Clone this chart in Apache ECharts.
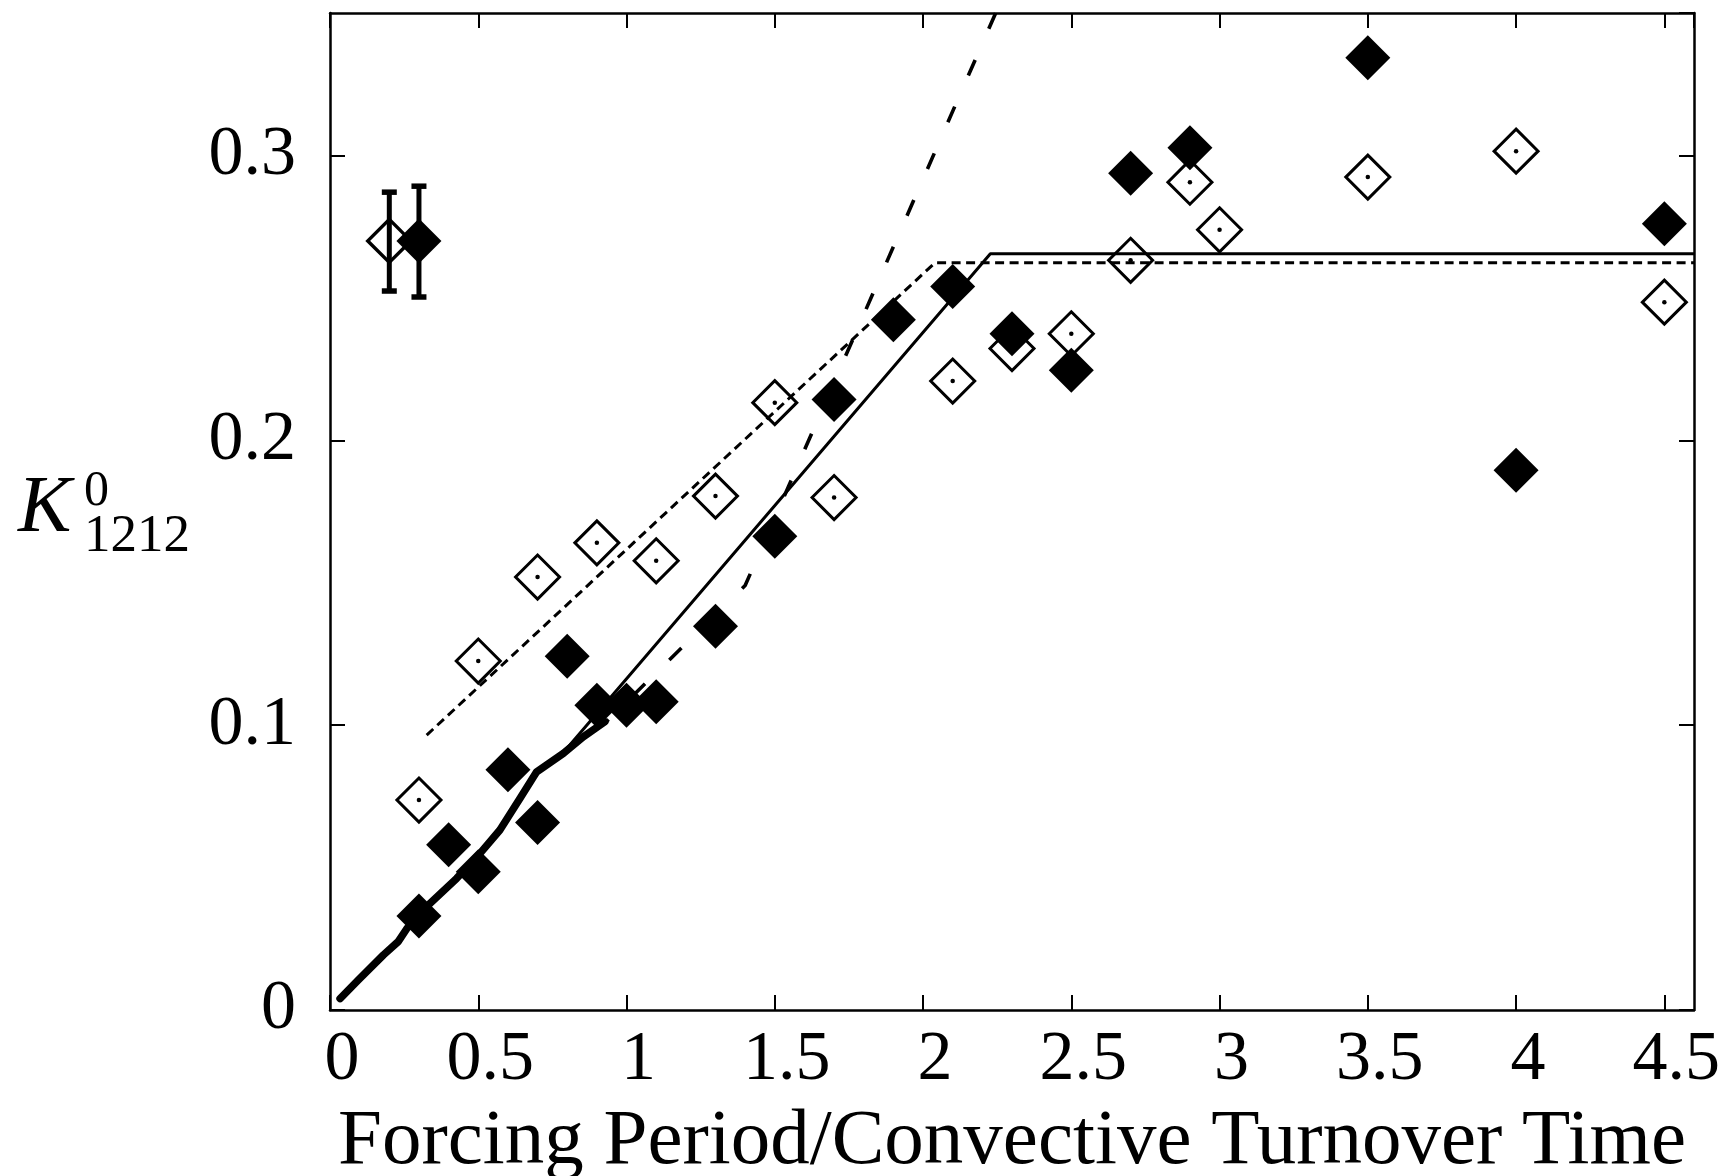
<!DOCTYPE html>
<html>
<head>
<meta charset="utf-8">
<script src="https://cdn.jsdelivr.net/npm/echarts@6.0.0/dist/echarts.min.js"></script>
<style>
  html, body { margin: 0; padding: 0; background: #fff; }
  #chart { width: 1730px; height: 1176px; }
</style>
</head>
<body>
<div id="chart"></div>
<script>
// filled diamonds
const xFilled = [0.3, 0.4, 0.5, 0.6, 0.7, 0.8, 0.9, 1.0, 1.1, 1.3, 1.5, 1.7, 1.9, 2.1, 2.3, 2.5, 2.7, 2.9, 3.5, 4.0, 4.5];
const yFilled = [0.033, 0.058, 0.0485, 0.0843, 0.0658, 0.1242, 0.107, 0.107, 0.1082, 0.1347, 0.1663, 0.2143, 0.2423, 0.254, 0.2374, 0.2246, 0.2937, 0.3027, 0.3343, 0.1895, 0.276];

// open diamonds (with centre dot)
const xOpen = [0.3, 0.5, 0.7, 0.9, 1.1, 1.3, 1.5, 1.7, 2.1, 2.3, 2.5, 2.7, 2.9, 3.0, 3.5, 4.0, 4.5];
const yOpen = [0.0737, 0.1225, 0.152, 0.164, 0.1577, 0.1804, 0.2132, 0.1799, 0.2208, 0.2322, 0.2374, 0.2632, 0.2906, 0.2739, 0.2924, 0.3015, 0.2485];

// thick curve near the origin
const xThick = [0.034, 0.095, 0.18, 0.23, 0.26, 0.337, 0.427, 0.506, 0.573, 0.641, 0.697, 0.787, 0.854, 0.927];
const yThick = [0.004, 0.0105, 0.0193, 0.024, 0.0287, 0.0374, 0.0462, 0.055, 0.0632, 0.0743, 0.0836, 0.0901, 0.0959, 0.1012];

// fit lines
const xSolidFit = [0.78, 2.227, 4.6];
const ySolidFit = [0.0895, 0.2655, 0.2655];
const xShortDash = [0.326, 2.04, 4.6];
const yShortDash = [0.0965, 0.2623, 0.2623];
const xLongDash = [0.93, 1.4, 2.245];
const yLongDash = [0.101, 0.149, 0.35];

// typical error bars (index 0: open, index 1: filled)
const xErr = [0.2, 0.3];
const yErr = [0.27, 0.27];
const errLow = [0.2524, 0.2503];
const errHigh = [0.2871, 0.2892];

const FONT = 'Liberation Serif';
const pairs = (xs, ys) => xs.map((x, i) => [x, ys[i]]);

const chart = echarts.init(document.getElementById('chart'), null, { renderer: 'canvas' });

const xLabelFmt = function (v) {
  const k = v / 0.5;
  if (Math.abs(k - Math.round(k)) > 1e-6) return '';
  return String(Math.round(k) / 2);
};
const yLabelFmt = function (v) {
  const k = v / 0.1;
  if (Math.abs(k - Math.round(k)) > 1e-6) return '';
  return String(Math.round(k) / 10);
};

const axisLine = { show: true, onZero: false, lineStyle: { color: '#000', width: 2.5 } };
const axisTick = { show: true, inside: true, length: 15, lineStyle: { color: '#000', width: 2 } };

const option = {
  animation: false,
  backgroundColor: '#fff',
  textStyle: { fontFamily: FONT, color: '#000' },
  grid: { left: 330, right: 36, top: 13, bottom: 166, containLabel: false, outerBoundsMode: 'none' },
  xAxis: [
    {
      type: 'value', min: 0, max: 4.6, interval: 0.5, position: 'bottom',
      axisLine: axisLine, axisTick: axisTick, splitLine: { show: false },
      axisLabel: {
        formatter: xLabelFmt, fontSize: 70, fontFamily: FONT, color: '#000',
        margin: 16, padding: [0, 0, 0, 24], showMaxLabel: false
      },
      name: 'Forcing Period/Convective Turnover Time',
      nameLocation: 'middle', nameGap: 93,
      nameTextStyle: { fontSize: 79, fontFamily: FONT, color: '#000' }
    },
    {
      type: 'value', min: 0, max: 4.6, interval: 0.5, position: 'top',
      axisLine: axisLine, axisTick: axisTick, splitLine: { show: false },
      axisLabel: { show: false }
    }
  ],
  yAxis: [
    {
      type: 'value', min: 0, max: 0.35, interval: 0.1, position: 'left',
      axisLine: axisLine, axisTick: axisTick, splitLine: { show: false },
      axisLabel: {
        formatter: yLabelFmt, fontSize: 70, fontFamily: FONT, color: '#000',
        margin: 34, showMaxLabel: false
      }
    },
    {
      type: 'value', min: 0, max: 0.35, interval: 0.1, position: 'right',
      axisLine: axisLine, axisTick: axisTick, splitLine: { show: false },
      axisLabel: { show: false }
    }
  ],
  graphic: [
    { type: 'text', x: 18, y: 510,
      style: { text: 'K', font: 'italic 80px "Liberation Serif"', fill: '#000', verticalAlign: 'middle', align: 'left' } },
    { type: 'text', x: 84, y: 492,
      style: { text: '0', font: '50px "Liberation Serif"', fill: '#000', verticalAlign: 'middle', align: 'left' } },
    { type: 'text', x: 84, y: 537,
      style: { text: '1212', font: '53px "Liberation Serif"', fill: '#000', verticalAlign: 'middle', align: 'left' } }
  ],
  series: [
    {
      name: 'open', type: 'scatter', symbol: 'diamond', symbolSize: 44,
      data: pairs(xOpen, yOpen),
      itemStyle: { color: 'rgba(255,255,255,0)', borderColor: '#000', borderWidth: 3, opacity: 1 }
    },
    {
      name: 'openDot', type: 'scatter', symbol: 'circle', symbolSize: 4.5,
      data: pairs(xOpen, yOpen),
      itemStyle: { color: '#000', opacity: 1 }
    },
    {
      name: 'thick', type: 'line', showSymbol: false, symbol: 'none',
      data: pairs(xThick, yThick),
      lineStyle: { color: '#000', width: 7.5, cap: 'round', join: 'round' }
    },
    {
      name: 'solidFit', type: 'line', showSymbol: false, symbol: 'none',
      data: pairs(xSolidFit, ySolidFit),
      lineStyle: { color: '#000', width: 3 }
    },
    {
      name: 'shortDash', type: 'line', showSymbol: false, symbol: 'none',
      data: pairs(xShortDash, yShortDash),
      lineStyle: { color: '#000', width: 3, type: [9, 5.5] }
    },
    {
      name: 'longDash', type: 'line', showSymbol: false, symbol: 'none',
      data: pairs(xLongDash, yLongDash),
      lineStyle: { color: '#000', width: 3.6, type: [17, 34], dashOffset: 13 }
    },
    {
      name: 'filled', type: 'scatter', symbol: 'diamond', symbolSize: 45,
      data: pairs(xFilled, yFilled),
      itemStyle: { color: '#000', opacity: 1 }
    },
    {
      name: 'errOpen', type: 'scatter', symbol: 'diamond', symbolSize: 43,
      data: [[xErr[0], yErr[0]]],
      itemStyle: { color: 'rgba(255,255,255,0)', borderColor: '#000', borderWidth: 3.5, opacity: 1 }
    },
    {
      name: 'errFilled', type: 'scatter', symbol: 'diamond', symbolSize: 45,
      data: [[xErr[1], yErr[1]]],
      itemStyle: { color: '#000', opacity: 1 }
    },
    {
      name: 'errBars', type: 'custom',
      data: xErr.map((x, i) => [x, yErr[i], errLow[i], errHigh[i]]),
      encode: { x: 0, y: [1, 2, 3] },
      renderItem: function (params, api) {
        const x = api.value(0);
        const pLo = api.coord([x, api.value(2)]);
        const pHi = api.coord([x, api.value(3)]);
        const capW = 15, capH = 5.5;
        return {
          type: 'group',
          children: [
            { type: 'line', shape: { x1: pLo[0], y1: pLo[1], x2: pHi[0], y2: pHi[1] },
              style: { stroke: '#000', lineWidth: 5 } },
            { type: 'rect', shape: { x: pHi[0] - capW / 2, y: pHi[1] - capH / 2, width: capW, height: capH },
              style: { fill: '#000' } },
            { type: 'rect', shape: { x: pLo[0] - capW / 2, y: pLo[1] - capH / 2, width: capW, height: capH },
              style: { fill: '#000' } }
          ]
        };
      }
    }
  ]
};

chart.setOption(option);
</script>
</body>
</html>
